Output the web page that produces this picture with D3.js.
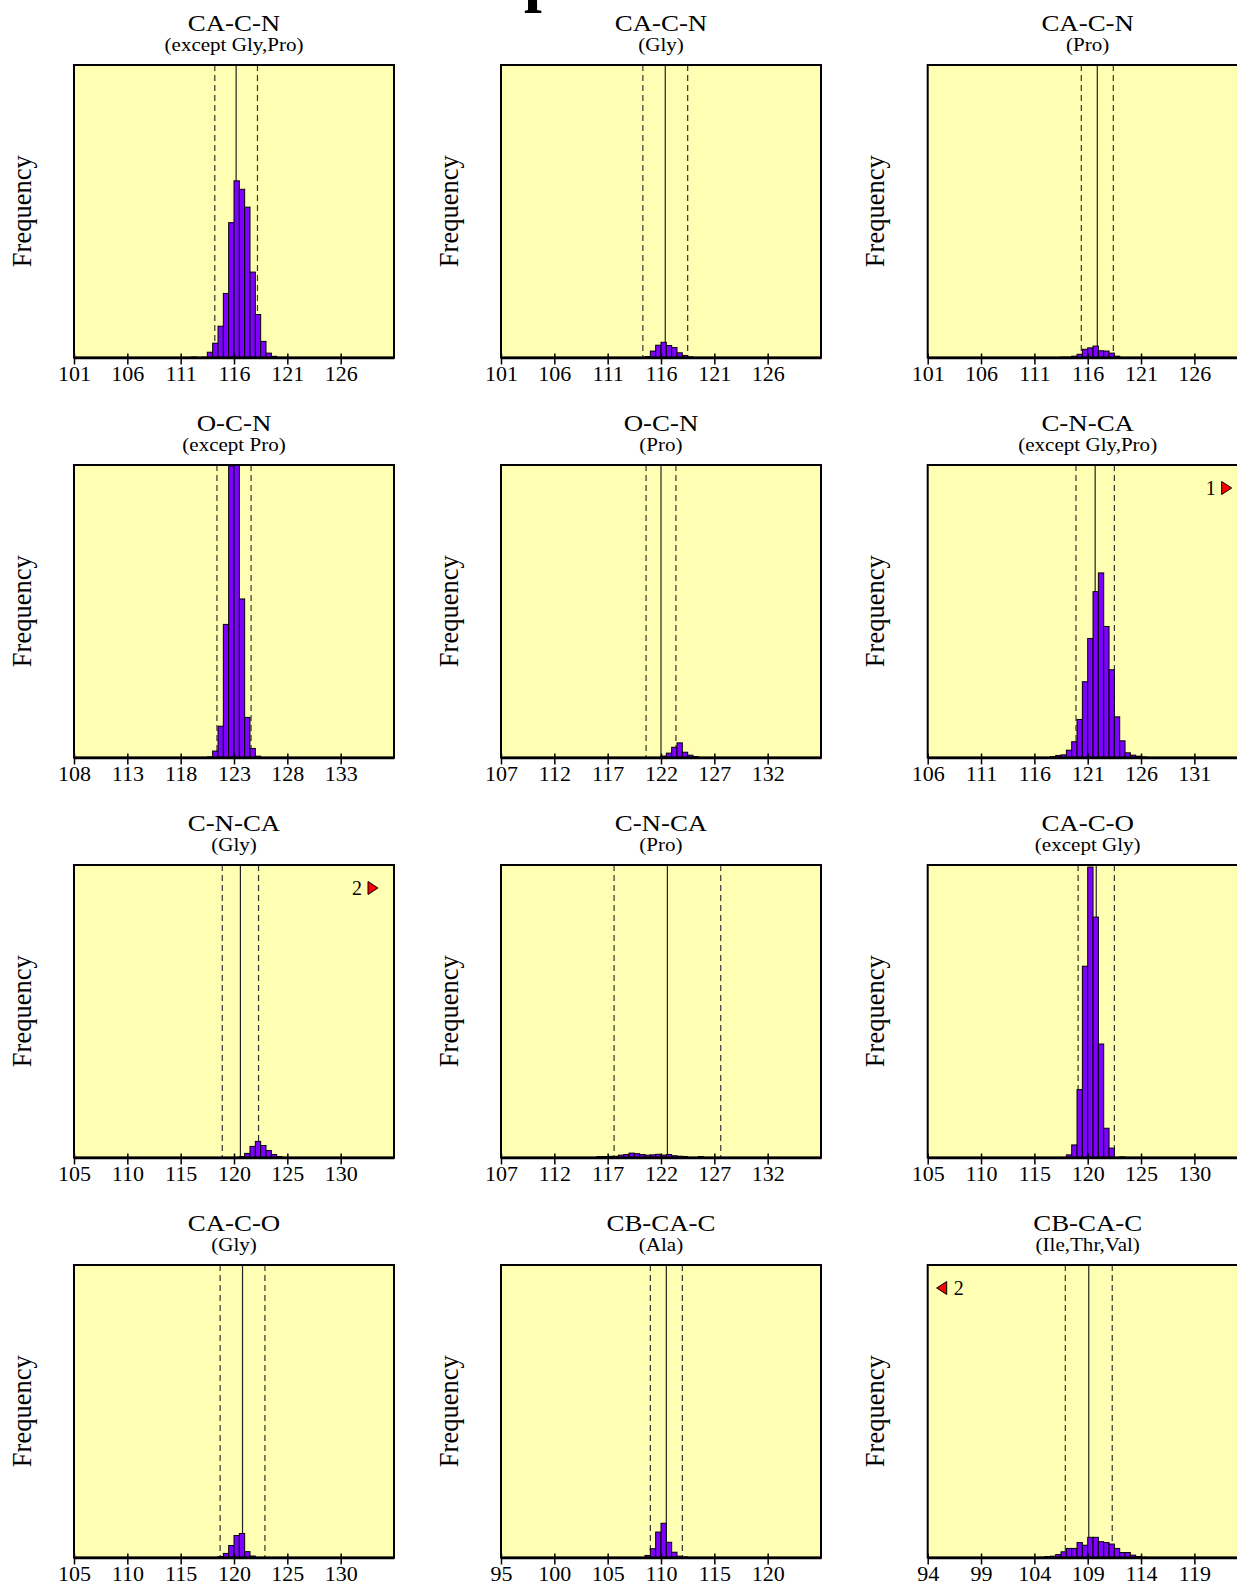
<!DOCTYPE html>
<html><head><meta charset="utf-8">
<script src="https://cdn.jsdelivr.net/npm/d3@7"></script>
<style>
body{margin:0;background:#fff}
svg{display:block}
text{font-family:"Liberation Serif","Times New Roman",serif;fill:#000}
</style>
</head><body>
<svg id="chart" width="1237" height="1585"></svg>
<script>
// ---------- data ----------
const mainTitle = "Group";
const titles = ["CA-C-N","CA-C-N","CA-C-N","O-C-N","O-C-N","C-N-CA","C-N-CA","C-N-CA","CA-C-O","CA-C-O","CB-CA-C","CB-CA-C"];
const subtitles = ["(except Gly,Pro)","(Gly)","(Pro)","(except Pro)","(Pro)","(except Gly,Pro)","(Gly)","(Pro)","(except Gly)","(Gly)","(Ala)","(Ile,Thr,Val)"];
const axisStart = [101,101,101,108,107,106,105,107,105,105,95,94];
const idealMean = [116.2,116.4,116.9,123.0,122.0,121.7,120.6,122.6,120.8,120.8,110.5,109.1];
const idealSd   = [2.0,2.1,1.5,1.6,1.4,1.8,1.7,5.0,1.7,2.1,1.5,2.2];
const firstBin  = [112,114.5,113.5,120.5,122,117.5,120.5,116,118,118.5,108.5,104.5];
const binWidth = 0.5;
// frequencies (percent of panel height) per 0.5-degree bin
const freqCACN    = [0.15,0,0.1,1.8,4.9,10.7,21.9,46.1,60.4,57.5,51.4,29.2,14.7,5.5,1.5,0.4];
const freqCACNGly = [0.3,2.2,4.2,5.2,4.1,3.4,1.6,0.7,0.2];
const freqCACNPro = [0.1,0.1,0.45,1.1,2.8,3.3,3.9,2.3,2.2,1.5,0.45];
const freqOCN     = [0.2,2.2,10.7,45.5,99.7,103,54.2,13.7,3.1,0.45];
const freqOCNPro  = [0.5,1.5,3.5,5.0,1.8,0.8,0.3];
const freqCNCA    = [0.3,0.7,0.9,2.5,5.4,13,25.9,40.7,56.7,63.1,44.8,30,13.9,5.7,1.6,0.8,0.45,0.2];
const freqCNCAGly = [0.3,1.4,3.8,5.5,4.1,2.4,1.0,0.3];
const freqCNCAPro = [0.3,0.3,0.4,0.4,0.8,1.0,1.5,1.3,1.0,0.8,0.9,1.1,0.8,1.0,0.6,0.45,0.35,0,0,0.35];
const freqCACO    = [0.9,4.3,23.2,65.4,99.3,82.2,38.8,10,3.2,0,0.2];
const freqCACOGly = [0.3,1.4,4.1,7.5,8.2,2.0,0.5];
const freqCBCAAla = [0.7,3.0,8.7,11.7,5.2,1.8,0.45,0.2];
const freqCBCAITV = [0.1,0.34,0.45,1.0,1.95,3.1,3.1,5.1,4.2,6.9,6.9,5.4,5.1,4.6,3.1,1.7,1.7,0.8,0.34,0.1];
const frequencies = [freqCACN,freqCACNGly,freqCACNPro,freqOCN,freqOCNPro,freqCNCA,freqCNCAGly,freqCNCAPro,freqCACO,freqCACOGly,freqCBCAAla,freqCBCAITV];
const offscaleCount = [0,0,0,0,0,1,2,0,0,0,0,2];
const offscaleSide  = ["","","","","","right","right","","","","","left"];
const yMax = 100;
const axisSpan = 30;

// ---------- layout ----------
const colX = [74, 501, 927.7];
const rowY = [65, 465, 865, 1265];
const W = 320, H = 292.5;

const svg = d3.select("#chart");
svg.append("rect").attr("width",1237).attr("height",1585).attr("fill","#fff");

// cut-off main title (only the descender of its "p" shows at the top edge)
const mt = svg.append("text").attr("y",-1.5).attr("font-size",64).attr("font-weight","bold").text(mainTitle);
const pIdx = mainTitle.indexOf("p");
const pPos = mt.node().getStartPositionOfChar(pIdx).x;
mt.attr("x", 524 - pPos);

titles.forEach((t,i)=>{
  const col = i % 3, row = Math.floor(i/3);
  const g = svg.append("g").attr("transform",`translate(${colX[col]},${rowY[row]})`);
  const x = d3.scaleLinear().domain([axisStart[i], axisStart[i]+axisSpan]).range([0,W]);
  const y = d3.scaleLinear().domain([0,yMax]).range([H,0]);
  const cid = "clip"+i;
  g.append("clipPath").attr("id",cid).append("rect").attr("width",W).attr("height",H);

  g.append("rect").attr("width",W).attr("height",H).attr("fill","#ffffb4");

  const lines = g.append("g").attr("clip-path",`url(#${cid})`);
  [idealMean[i]-idealSd[i], idealMean[i]+idealSd[i]].forEach(v=>{
    lines.append("line").attr("x1",x(v)).attr("x2",x(v)).attr("y1",0).attr("y2",H)
      .attr("stroke","#333").attr("stroke-width",1.2).attr("stroke-dasharray","6,4");
  });
  lines.append("line").attr("x1",x(idealMean[i])).attr("x2",x(idealMean[i])).attr("y1",0).attr("y2",H)
    .attr("stroke","#222").attr("stroke-width",1.2);

  const bins = frequencies[i].map((v,k)=>({x0:firstBin[i]+k*binWidth, v}));
  g.append("g").attr("clip-path",`url(#${cid})`).selectAll("rect").data(bins.filter(d=>d.v>0)).join("rect")
    .attr("x",d=>x(d.x0)).attr("width",d=>x(d.x0+binWidth)-x(d.x0))
    .attr("y",d=>y(d.v)).attr("height",d=>H-y(d.v))
    .attr("fill","#7f00ff").attr("stroke","#000").attr("stroke-width",1);

  g.append("rect").attr("width",W).attr("height",H).attr("fill","none").attr("stroke","#000").attr("stroke-width",2);

  const ax = g.append("g").attr("transform",`translate(0,${H})`)
    .call(d3.axisBottom(x).tickValues(d3.range(axisStart[i], axisStart[i]+26, 5)).tickSizeInner(7).tickSizeOuter(0).tickFormat(d3.format("d")));
  ax.select(".domain").attr("stroke","#000").attr("stroke-width",2.5);
  ax.selectAll(".tick line").attr("y1",-4).attr("y2",7).attr("stroke","#000").attr("stroke-width",1.5);
  ax.selectAll(".tick text").attr("y",23).attr("dy",0).attr("font-size",22)
    .attr("font-family",'"Liberation Serif","Times New Roman",serif').attr("fill","#000");

  g.append("text").attr("transform",`translate(${W/2},-34.5) scale(1.12,1)`).attr("text-anchor","middle").attr("font-size",24).text(t);
  g.append("text").attr("transform",`translate(${W/2},-14.5) scale(1.17,1)`).attr("text-anchor","middle").attr("font-size",18).text(subtitles[i]);
  g.append("text").attr("transform",`translate(-52.5,${H/2}) rotate(-90)`).attr("text-anchor","middle")
    .attr("dominant-baseline","central").attr("font-size",26.5).text("Frequency");

  if (offscaleCount[i] > 0) {
    const cy = 23;
    if (offscaleSide[i] === "right") {
      const tx = W - 16;
      g.append("path").attr("d",`M${tx-10},${cy-6.5}L${tx},${cy}L${tx-10},${cy+6.5}Z`)
        .attr("fill","#ff0000").attr("stroke","#000").attr("stroke-width",1);
      g.append("text").attr("x",tx-21).attr("y",cy).attr("dominant-baseline","central")
        .attr("text-anchor","middle").attr("font-size",20).text(offscaleCount[i]);
    } else {
      const tx = 9;
      g.append("path").attr("d",`M${tx+10},${cy-6.5}L${tx},${cy}L${tx+10},${cy+6.5}Z`)
        .attr("fill","#ff0000").attr("stroke","#000").attr("stroke-width",1);
      g.append("text").attr("x",tx+22).attr("y",cy).attr("dominant-baseline","central")
        .attr("text-anchor","middle").attr("font-size",20).text(offscaleCount[i]);
    }
  }
});
</script>
</body></html>
